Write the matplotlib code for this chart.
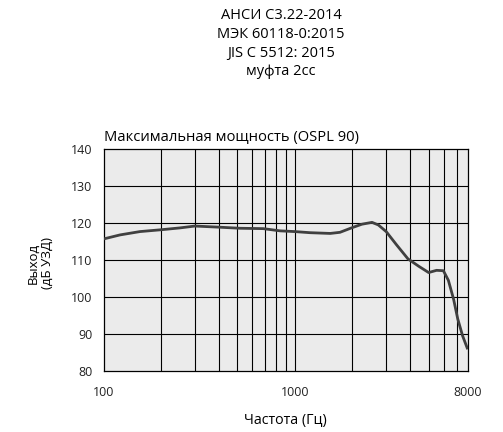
import numpy as np
import matplotlib
matplotlib.use("Agg")
import matplotlib.pyplot as plt
from matplotlib.ticker import FixedLocator, NullFormatter, NullLocator

plt.rcParams['font.family'] = ['Open Sans', 'DejaVu Sans']

# data
freq = [100, 122, 155, 200, 251, 300, 400, 517, 684, 836, 1000, 1200, 1530, 1720,
        2000, 2240, 2530, 2730, 3000, 3400, 3900, 4440, 5000, 5500, 5970, 6340,
        6750, 7100, 7520, 8000]
level = [115.7, 116.8, 117.7, 118.2, 118.7, 119.2, 118.9, 118.6, 118.5, 117.9,
         117.7, 117.4, 117.2, 117.5, 118.8, 119.7, 120.2, 119.5, 117.7, 114.1,
         110.3, 108.3, 106.6, 107.2, 107.1, 104.5, 99.4, 94.0, 89.5, 85.8]

header = ["АНСИ C3.22-2014", "МЭК 60118-0:2015", "JIS C 5512: 2015", "муфта 2сс"]
xticks = [100, 1000, 8000]
grid_x = [200, 300, 400, 500, 600, 700, 800, 900, 1000,
          2000, 3000, 4000, 5000, 6000, 7000]
yticks = [80, 90, 100, 110, 120, 130, 140]

fig = plt.figure(figsize=(5.03, 4.32), dpi=100)
ax = fig.add_axes([0.2058, 0.1419, 0.724, 0.5125])
ax.set_facecolor('#ebebeb')

for gx in grid_x:
    ax.axvline(gx, color='black', lw=0.8, zorder=1)
for gy in yticks[1:-1]:
    ax.axhline(gy, color='black', lw=0.8, zorder=1)

ax.plot(freq, level, color='#404040', lw=2, zorder=3, solid_capstyle='butt')

ax.set_xscale('log')
ax.set_xlim(100, 8000)
ax.set_ylim(80, 140)
ax.xaxis.set_major_locator(FixedLocator(xticks))
ax.xaxis.set_minor_locator(NullLocator())
ax.xaxis.set_minor_formatter(NullFormatter())
ax.set_xticklabels([str(t) for t in xticks])
ax.set_yticks(yticks)
ax.tick_params(length=0, labelsize=9, colors='#222222')
ax.tick_params(axis='x', pad=11)
ax.tick_params(axis='y', pad=8)
for s in ax.spines.values():
    s.set_color('black')
    s.set_linewidth(0.9)

ax.set_title("Максимальная мощность (OSPL 90)", loc='left', fontsize=10.6, pad=6)
ax.set_xlabel("Частота (Гц)", fontsize=10.3, labelpad=10)
fig.text(0.08, 0.391, "Выход\n(дБ УЗД)", rotation=90, ha='center', va='center',
         fontsize=9.5, linespacing=1.1)

for i, line in enumerate(header):
    fig.text(0.559, 1 - (15.7 + 18.7 * i) / 432, line, ha='center', va='center', fontsize=10.5)

fig.savefig("out.png", dpi=100)
